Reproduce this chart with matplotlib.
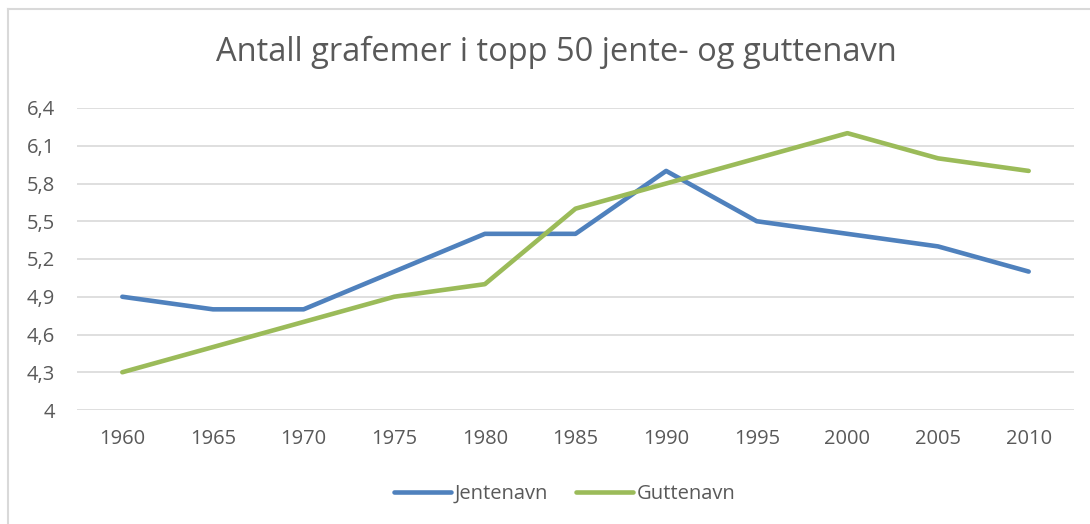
import matplotlib.pyplot as plt
from matplotlib.lines import Line2D
from matplotlib.ticker import FuncFormatter

years = ["1960", "1965", "1970", "1975", "1980", "1985", "1990", "1995", "2000", "2005", "2010"]
jentenavn = [4.9, 4.8, 4.8, 5.1, 5.4, 5.4, 5.9, 5.5, 5.4, 5.3, 5.1]
guttenavn = [4.3, 4.5, 4.7, 4.9, 5.0, 5.6, 5.8, 6.0, 6.2, 6.0, 5.9]
y_ticks = [4.0, 4.3, 4.6, 4.9, 5.2, 5.5, 5.8, 6.1, 6.4]

txt = "#595959"
plt.rcParams['font.family'] = ['Open Sans', 'DejaVu Sans']

fig = plt.figure(figsize=(10.9, 5.24), dpi=100)
ax = fig.add_axes([77 / 1090, 1 - 410 / 524, 997 / 1090, 302 / 524])

x = list(range(len(years)))
ax.plot(x, jentenavn, color="#4f81bd", lw=3.3, solid_capstyle="round", label="Jentenavn", zorder=3)
ax.plot(x, guttenavn, color="#9bbb59", lw=3.3, solid_capstyle="round", label="Guttenavn", zorder=3)

ax.set_xlim(-0.5, len(years) - 0.5)
ax.set_ylim(4.0, 6.4)
ax.set_yticks(y_ticks)
ax.yaxis.set_major_formatter(FuncFormatter(lambda v, p: ("%g" % round(v, 1)).replace(".", ",")))
ax.set_xticks(x)
ax.set_xticklabels(years)
ax.grid(axis="y", color="#d9d9d9", lw=1.2)
ax.set_axisbelow(True)
for s in ax.spines.values():
    s.set_visible(False)
ax.tick_params(length=0, labelsize=14.5, colors=txt)
ax.tick_params(axis="x", pad=14)
ax.tick_params(axis="y", pad=16)

fig.text(556 / 1090, 1 - 52 / 524, "Antall grafemer i topp 50 jente- og guttenavn",
         ha="center", va="center", fontsize=23.5, color=txt)

leg = fig.legend(loc="center", bbox_to_anchor=(565 / 1090, 1 - 494 / 524), ncol=2,
                 frameon=False, fontsize=14.5, handlelength=2.8, handletextpad=0.2,
                 columnspacing=1.4)
for t in leg.get_texts():
    t.set_color(txt)

# kantlinje rundt diagrammet
fig.add_artist(Line2D([8 / 1090, 8 / 1090], [0, 1 - 9 / 524], color="#d9d9d9", lw=1.5))
fig.add_artist(Line2D([8 / 1090, 1], [1 - 9 / 524, 1 - 9 / 524], color="#d9d9d9", lw=1.5))

fig.savefig("out.png", dpi=100)
